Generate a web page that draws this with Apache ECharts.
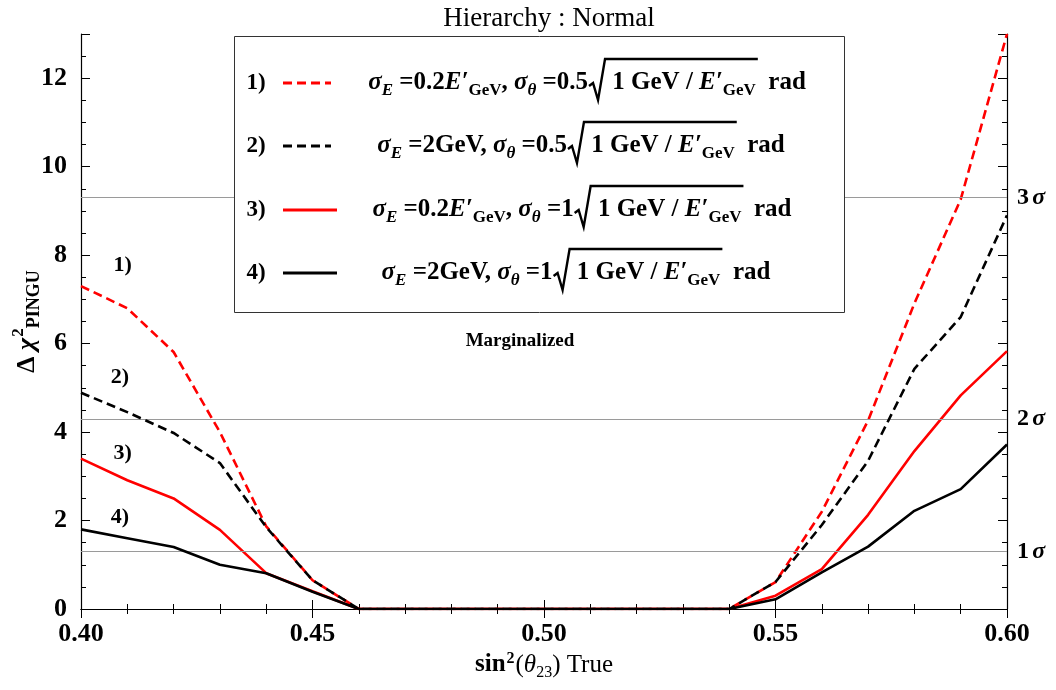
<!DOCTYPE html>
<html><head><meta charset="utf-8">
<script src="https://cdn.jsdelivr.net/npm/echarts@6/dist/echarts.min.js"></script>
<style>html,body{margin:0;padding:0;background:#fff}#c{width:1056px;height:690px}</style>
</head><body><div id="c"></div>
<script>
// ---------- data ----------
const xValues = [0.40,0.41,0.42,0.43,0.44,0.45,0.46,0.47,0.48,0.49,0.50,0.51,0.52,0.53,0.54,0.55,0.56,0.57,0.58,0.59,0.60];
const s1 = [7.30,6.80,5.81,4.00,1.87,0.65,0,0,0,0,0,0,0,0,0,0.61,2.20,4.26,6.91,9.26,13.0];
const s2 = [4.89,4.45,3.98,3.30,1.85,0.65,0,0,0,0,0,0,0,0,0,0.61,1.90,3.35,5.43,6.60,8.90];
const s3 = [3.40,2.91,2.50,1.79,0.81,0.40,0,0,0,0,0,0,0,0,0,0.30,0.90,2.13,3.57,4.83,5.83];
const s4 = [1.80,1.60,1.40,1.00,0.81,0.39,0,0,0,0,0,0,0,0,0,0.22,0.83,1.41,2.22,2.71,3.72];
const sigmaLevels = [1.3, 4.3, 9.3];
const sigmaNames = ['1', '2', '3'];
const curveTags = ['1)', '2)', '3)', '4)'];
const curveTagPos = [[0.409, 7.78], [0.4084, 5.23], [0.409, 3.51], [0.4084, 2.08]];
const xTicks = [0.40, 0.45, 0.50, 0.55, 0.60];
const yTicks = [0, 2, 4, 6, 8, 10, 12];
const titleText = 'Hierarchy : Normal';
const noteText = 'Marginalized';

// ---------- helpers ----------
const FAM = '"Liberation Serif", "Times New Roman", serif';
const mctx = document.createElement('canvas').getContext('2d');
function fontOf(tk){ return (tk.i?'italic ':'normal ') + (tk.b===false?'normal ':'bold ') + tk.s + 'px ' + FAM; }
function measure(tk){ mctx.font = fontOf(tk); return mctx.measureText(tk.t).width; }

const M = 25, S = 17, D = 8;
function T(t, o){ return Object.assign({t:t, s:M, dy:0}, o||{}); }
function sub(t, o){ return Object.assign({t:t, s:S, dy:D}, o||{}); }

const items = [
  {num:'1)', color:'#ff0000', dash:true, cx:587, cy:83, len:48,
   pre:[T('σ',{i:1}),sub('E',{i:1}),T(' =0.2'),T('E′',{i:1}),sub('GeV'),T(', '),T('σ',{i:1}),sub('θ',{i:1}),T(' =0.5')]},
  {num:'2)', color:'#000000', dash:true, cx:581, cy:146, len:48,
   pre:[T('σ',{i:1}),sub('E',{i:1}),T(' =2GeV, '),T('σ',{i:1}),sub('θ',{i:1}),T(' =0.5')]},
  {num:'3)', color:'#ff0000', dash:false, cx:582, cy:210, len:54,
   pre:[T('σ',{i:1}),sub('E',{i:1}),T(' =0.2'),T('E′',{i:1}),sub('GeV'),T(', '),T('σ',{i:1}),sub('θ',{i:1}),T(' =1')]},
  {num:'4)', color:'#000000', dash:false, cx:576, cy:273, len:54,
   pre:[T('σ',{i:1}),sub('E',{i:1}),T(' =2GeV, '),T('σ',{i:1}),sub('θ',{i:1}),T(' =1')]}
];
const radicand = [T(' 1 GeV / '),T('E′',{i:1}),sub('GeV'),T(' ')];
const tail = [T(' rad')];

function buildLegend(){
  const els = [];
  els.push({type:'rect', z:50, shape:{x:234.5,y:36.5,width:610,height:276}, style:{fill:'#fff', stroke:'#333', lineWidth:1}});
  items.forEach(it => {
    els.push({type:'text', z:51, x:256, y:it.cy, style:{text:it.num, font:'bold 23px '+FAM, fill:'#000', align:'center', verticalAlign:'middle', textAlign:'center', textVerticalAlign:'middle'}});
    els.push({type:'line', z:51, shape:{x1:283, y1:it.cy, x2:283+it.len, y2:it.cy}, style:{stroke:it.color, lineWidth:3, lineDash: it.dash ? [9,5] : null}});
    const SQW = 18;
    const all = it.pre.concat([{sqrt:true}], radicand, tail);
    const widths = all.map(tk => tk.sqrt ? SQW : measure(tk));
    const total = widths.reduce((a,b)=>a+b,0);
    let x = it.cx - total/2;
    let sqX = 0, radEnd = 0;
    all.forEach((tk, k) => {
      if (tk.sqrt) { sqX = x; }
      else {
        els.push({type:'text', z:51, x:x, y:it.cy + tk.dy, style:{text:tk.t, font:fontOf(tk), fill:'#000', align:'left', verticalAlign:'middle', textAlign:'left', textVerticalAlign:'middle'}});
      }
      x += widths[k];
      if (k === it.pre.length + radicand.length - 1 + 1) radEnd = x - measure(radicand[radicand.length-1]);
    });
    const top = it.cy - 24;
    els.push({type:'polyline', z:51, shape:{points:[[sqX+1, it.cy+3],[sqX+5, it.cy+0],[sqX+10, it.cy+17],[sqX+SQW-1, top],[radEnd+2, top]]},
      style:{stroke:'#000', lineWidth:2.4, fill:null}});
  });
  return els;
}

const chart = echarts.init(document.getElementById('c'), null, {renderer:'canvas'});
const axisCommon = {
  type:'value', min:0.40, max:0.60, interval:0.05,
  axisLine:{show:true, lineStyle:{color:'#000', width:1.2}},
  axisTick:{show:true, inside:true, length:9, lineStyle:{color:'#000', width:1}},
  minorTick:{show:true, splitNumber:5, length:5, lineStyle:{color:'#000', width:1}},
  splitLine:{show:false}, minorSplitLine:{show:false}
};
const yCommon = {
  type:'value', min:0, max:13, interval:2,
  axisLine:{show:true, lineStyle:{color:'#000', width:1.2}},
  axisTick:{show:true, inside:true, length:9, lineStyle:{color:'#000', width:1}},
  minorTick:{show:true, splitNumber:4, length:5, lineStyle:{color:'#000', width:1}},
  splitLine:{show:false}, minorSplitLine:{show:false}
};

function pairs(arr){ return xValues.map((x,i)=>[x, arr[i]]); }

const option = {
  backgroundColor:'#fff',
  animation:false,
  title:{text:titleText, left:544, textAlign:'center', top:0, textStyle:{fontFamily:FAM, fontWeight:'normal', fontSize:27, color:'#000'}},
  grid:{left:81, right:49, top:34, bottom:81, containLabel:false, outerBoundsMode:'none'},
  xAxis:[
    Object.assign({}, axisCommon, {position:'bottom',
      axisLabel:{show:true, margin:12, formatter:v=>xTicks.some(t=>Math.abs(t-v)<1e-9)?v.toFixed(2):'', fontFamily:FAM, fontWeight:'bold', fontSize:26, color:'#000'},
      name:'{b|sin}{sup|2}{r|(}{i|θ}{sub|23}{r|) True}', nameLocation:'middle', nameGap:40, nameMoveOverlap:false,
      nameTextStyle:{rich:{
        b:{fontFamily:FAM, fontWeight:'bold', fontSize:25, color:'#000', lineHeight:32},
        r:{fontFamily:FAM, fontSize:25, color:'#000', lineHeight:32},
        i:{fontFamily:FAM, fontStyle:'italic', fontSize:25, color:'#000', lineHeight:32},
        sup:{fontFamily:FAM, fontWeight:'bold', fontSize:16, color:'#000', lineHeight:16, padding:[0,1,13,1]},
        sub:{fontFamily:FAM, fontSize:16, color:'#000', lineHeight:16, padding:[15,0,0,0]}
      }}}),
    Object.assign({}, axisCommon, {position:'top', axisLabel:{show:false}})
  ],
  yAxis:[
    Object.assign({}, yCommon, {position:'left',
      axisLabel:{show:true, margin:14, formatter:v=>yTicks.indexOf(v)>=0?String(v):'', fontFamily:FAM, fontWeight:'bold', fontSize:26, color:'#000'},
      name:'{d|Δ }{c|χ}{sup|2}{sub|PINGU}', nameLocation:'middle', nameGap:38, nameMoveOverlap:false,
      nameTextStyle:{rich:{
        d:{fontFamily:FAM, fontWeight:'bold', fontSize:26, color:'#000', lineHeight:32},
        c:{fontFamily:FAM, fontWeight:'bold', fontStyle:'italic', fontSize:26, color:'#000', lineHeight:32},
        sup:{fontFamily:FAM, fontWeight:'bold', fontSize:17, color:'#000', lineHeight:17, padding:[0,0,16,1]},
        sub:{fontFamily:FAM, fontWeight:'bold', fontSize:18, color:'#000', lineHeight:18, padding:[15,0,0,0]}
      }}}),
    Object.assign({}, yCommon, {position:'right', axisLabel:{show:false}})
  ],
  series:[
    {type:'line', name:'sigma', data:[], z:1, silent:true,
     markLine:{silent:true, symbol:['none','none'], animation:false,
       lineStyle:{color:'#9a9a9a', width:1, type:'solid'},
       label:{show:false},
       data: sigmaLevels.map(v=>({yAxis:v}))}},
    {type:'scatter', name:'sigmaLabels', symbolSize:0, z:7, silent:true, itemStyle:{opacity:1},
     data: sigmaLevels.map((v,i)=>({value:[0.60, v], label:{formatter:'{n|'+sigmaNames[i]+'} {s|σ}'}})),
     label:{show:true, position:'right', distance:10, color:'#000',
       rich:{n:{fontFamily:FAM, fontWeight:'bold', fontSize:24, color:'#000'}, s:{fontFamily:FAM, fontStyle:'italic', fontWeight:'bold', fontSize:24, color:'#000'}}}},
    {type:'line', name:'1', data:pairs(s1), showSymbol:false, symbol:'none', z:3,
     lineStyle:{color:'#ff0000', width:2.6, type:[9,5]}},
    {type:'line', name:'3', data:pairs(s3), showSymbol:false, symbol:'none', z:4,
     lineStyle:{color:'#ff0000', width:2.6, type:'solid'}},
    {type:'line', name:'2', data:pairs(s2), showSymbol:false, symbol:'none', z:5,
     lineStyle:{color:'#000000', width:2.6, type:[9,5]}},
    {type:'line', name:'4', data:pairs(s4), showSymbol:false, symbol:'none', z:6,
     lineStyle:{color:'#000000', width:2.6, type:'solid'}},
    {type:'scatter', name:'tags', symbolSize:0, z:7, silent:true, itemStyle:{opacity:1},
     data: curveTagPos.map((p,i)=>({value:p, label:{show:true, formatter:curveTags[i]}})),
     label:{show:true, position:'inside', fontFamily:FAM, fontWeight:'bold', fontSize:22, color:'#000', opacity:1}}
  ],
  graphic: buildLegend().concat([
    {type:'text', z:51, x:520, y:341, style:{text:noteText, font:'bold 19px '+FAM, fill:'#000', align:'center', verticalAlign:'middle', textAlign:'center', textVerticalAlign:'middle'}}
  ])
};
chart.setOption(option);
</script>
</body></html>
